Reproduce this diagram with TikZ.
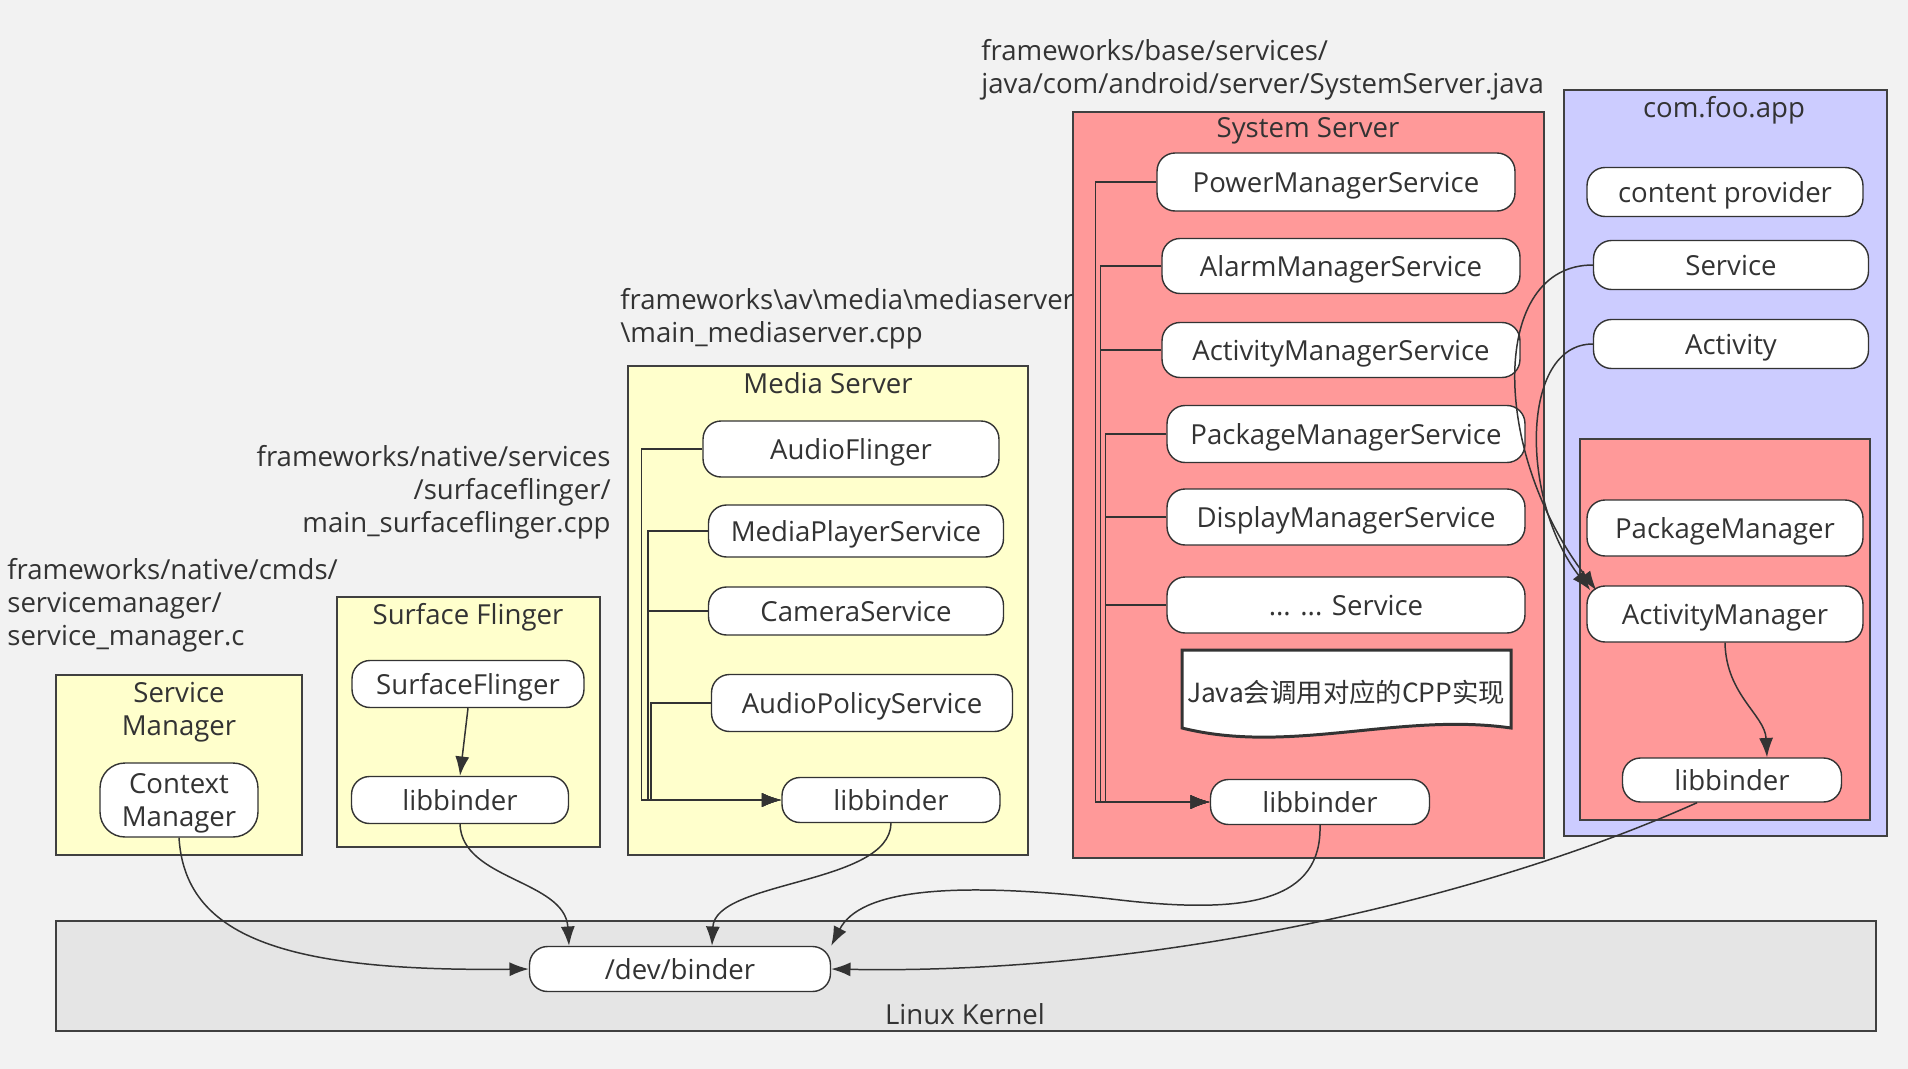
\documentclass[tikz,border=0pt]{standalone}
\usepackage{fontspec}
\setmainfont{Open Sans}
\newfontfamily\cjkfont{Noto Sans CJK SC}
\usepackage{tikz}
\usepackage{xcolor}
\usetikzlibrary{arrows.meta,calc}

\definecolor{bgc}{HTML}{F2F2F2}
\definecolor{kernelc}{HTML}{E5E5E5}
\definecolor{yellowc}{HTML}{FFFFCC}
\definecolor{redc}{HTML}{FF9999}
\definecolor{lavc}{HTML}{CCCCFF}
\definecolor{linec}{HTML}{333333}
\definecolor{boxc}{HTML}{404040}

\begin{document}
\begin{tikzpicture}[
  x=0.02cm, y=-0.02cm,
  font=\fontsize{15.7}{18.7}\selectfont,
  >={Latex[length=11pt,width=8pt]},
  proc/.style={draw=linec, fill=white, rounded corners=0.36cm, line width=0.8pt,
    inner sep=2pt, text=linec, text depth=0pt},
  group/.style={draw=boxc, line width=1.2pt},
  title/.style={text=linec, inner sep=0pt, align=center, text depth=0pt},
  srcpath/.style={text=linec, inner sep=0pt, align=left},
  link/.style={->, draw=linec, line width=0.85pt}
]
  \fill[bgc] (0,0) rectangle (1908,1069);
  \useasboundingbox (0,0) rectangle (1908,1069);

  % boxes
  \draw[group, fill=kernelc] (56,921) rectangle (1876,1031);
  \draw[group, fill=yellowc] (56,675) rectangle (302,855);
  \draw[group, fill=yellowc] (337,597) rectangle (600,847);
  \draw[group, fill=yellowc] (628,366) rectangle (1028,855);
  \draw[group, fill=redc] (1073,112) rectangle (1544,858);
  \draw[group, fill=lavc] (1564,90) rectangle (1887,836);
  \draw[group, fill=redc] (1580,439) rectangle (1870,820);

  % source files
  \node[srcpath, anchor=north west] (smsrc) at (7,558)
    {frameworks/native/cmds/\\servicemanager/\\service\_manager.c};
  \node[srcpath, align=right, anchor=north east] (sfsrc) at (611,445)
    {frameworks/native/services\\/surfaceflinger/\\main\_surfaceflinger.cpp};
  \node[srcpath, anchor=north west] (mssrc) at (620,288)
    {frameworks\textbackslash av\textbackslash media\textbackslash mediaserver\\\textbackslash main\_mediaserver.cpp};
  \node[srcpath, anchor=north west] (sssrc) at (981,39)
    {frameworks/base/services/\\java/com/android/server/SystemServer.java};

  % kernel
  \node[title] (kernel) at (965,1014) {Linux Kernel};
  \node[proc, minimum width=6.02cm, minimum height=0.9cm] (dev) at (680,969) {/dev/binder};

  % service manager
  \node[title] (smtitle) at (179,709) {Service\\Manager};
  \node[proc, align=center, rounded corners=0.5cm, minimum width=3.16cm, minimum height=1.48cm] (ctx) at (179,800) {Context\\Manager};

  % surface flinger
  \node[title] (sftitle) at (468,614) {Surface Flinger};
  \node[proc, minimum width=4.64cm, minimum height=0.94cm] (sf) at (468,684) {SurfaceFlinger};
  \node[proc, minimum width=4.34cm, minimum height=0.94cm] (sflb) at (460,800) {libbinder};

  % media server
  \node[title] (mstitle) at (828,383) {Media Server};
  \node[proc, minimum width=5.92cm, minimum height=1.12cm] (af) at (851,449) {AudioFlinger};
  \node[proc, minimum width=5.9cm, minimum height=1.04cm] (mps) at (856,531) {MediaPlayerService};
  \node[proc, minimum width=5.9cm, minimum height=0.96cm] (cam) at (856,611) {CameraService};
  \node[proc, minimum width=6.02cm, minimum height=1.14cm] (aps) at (862,703) {AudioPolicyService};
  \node[proc, minimum width=4.36cm, minimum height=0.9cm] (mlb) at (891,800) {libbinder};

  % system server
  \node[title] (sstitle) at (1308,128) {System Server};
  \node[proc, minimum width=7.16cm, minimum height=1.16cm] (pms) at (1336,182) {PowerManagerService};
  \node[proc, minimum width=7.16cm, minimum height=1.1cm] (alms) at (1341,266) {AlarmManagerService};
  \node[proc, minimum width=7.16cm, minimum height=1.1cm] (ams) at (1341,350) {ActivityManagerService};
  \node[proc, minimum width=7.16cm, minimum height=1.14cm] (pkms) at (1346,434) {PackageManagerService};
  \node[proc, minimum width=7.16cm, minimum height=1.12cm] (dms) at (1346,517) {DisplayManagerService};
  \node[proc, minimum width=7.16cm, minimum height=1.12cm] (more) at (1346,605) {... ... Service};
  \draw[draw=linec, line width=1.7pt, fill=white] (1182,650) -- (1511,650) -- (1511,728)
    .. controls (1400,712) and (1290,755) .. (1182,728) -- cycle;
  \node[font=\cjkfont\fontsize{15}{18}\selectfont, text=linec] (jnote) at (1346,692) {Java会调用对应的CPP实现};
  \node[proc, minimum width=4.38cm, minimum height=0.9cm] (slb) at (1320,802) {libbinder};

  % app
  \node[title] (apptitle) at (1724,107) {com.foo.app};
  \node[proc, minimum width=5.52cm, minimum height=0.98cm] (cp) at (1725,192) {content provider};
  \node[proc, minimum width=5.5cm, minimum height=0.98cm] (asvc) at (1731,265) {Service};
  \node[proc, minimum width=5.5cm, minimum height=0.98cm] (act) at (1731,344) {Activity};
  \node[proc, minimum width=5.52cm, minimum height=1.12cm] (pm) at (1725,528) {PackageManager};
  \node[proc, minimum width=5.52cm, minimum height=1.12cm] (am) at (1725,614) {ActivityManager};
  \node[proc, minimum width=4.38cm, minimum height=0.88cm] (alb) at (1732,780) {libbinder};

  % links inside the processes
  \draw[link] (sf.south) -- (sflb.north);
  \foreach \n/\d in {af/61, mps/60, cam/60, aps/60}
    \draw[link] (\n.west) -- ++(-\d,0) |- (mlb.west);
  \foreach \n in {pms, alms, ams, pkms, dms, more}
    \draw[link] (\n.west) -- ++(-61,0) |- (slb.west);
  \draw[link] (am.south) .. controls (1726,695) and (1765,715) .. ([xshift=0.7cm]alb.north);
  \draw[link] (asvc.west) .. controls (1490,265) and (1490,450) .. ($(am.north west)+(10,5)$);
  \draw[link] (act.west) .. controls (1520,344) and (1520,500) .. ($(am.north west)+(4,5)$);

  % links to the driver
  \draw[link] (ctx.south) .. controls (185,935) and (280,972) .. (dev.west);
  \draw[link] (sflb.south) .. controls (462,880) and (565,880) .. ([xshift=-2.22cm]dev.north);
  \draw[link] (mlb.south) .. controls (890,885) and (715,880) .. ([xshift=0.64cm]dev.north);
  \draw[link] (slb.south) .. controls (1322,900) and (1250,915) .. (1120,900)
    .. controls (950,880) and (860,890) .. (dev.north east);
  \draw[link] ([xshift=-0.7cm]alb.south) .. controls (1480,900) and (1150,975) .. (dev.east);
\end{tikzpicture}
\end{document}
